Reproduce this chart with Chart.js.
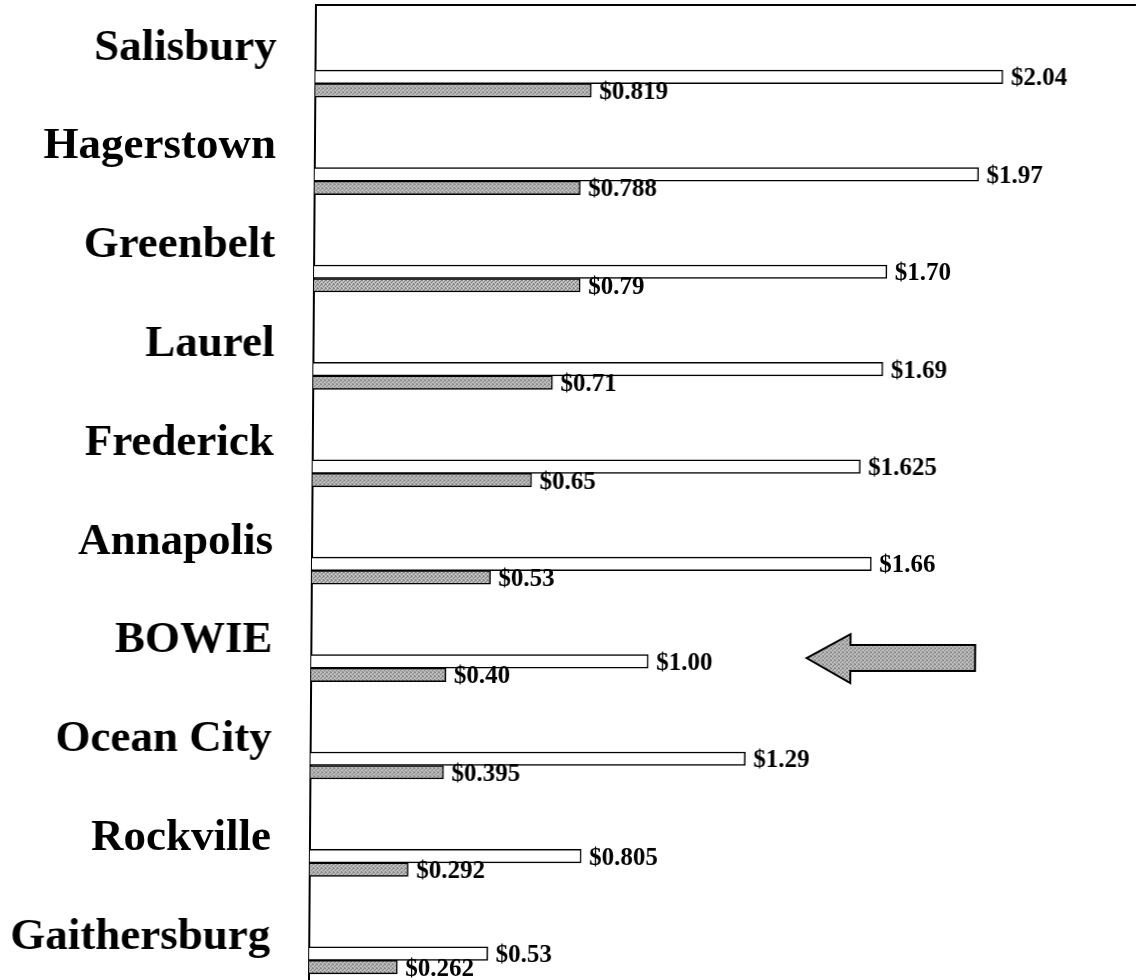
<!DOCTYPE html>
<html><head><meta charset="utf-8">
<script src="https://cdn.jsdelivr.net/npm/chart.js@4.4.0/dist/chart.umd.min.js"></script>
<style>
html,body{margin:0;padding:0;background:#fff;overflow:hidden;width:1136px;height:980px;}
#c{display:block;transform:skewX(-0.41deg);transform-origin:0 0;}
</style></head><body>
<canvas id="c" width="1136" height="1010"></canvas>
<script>
const cities = ['Salisbury','Hagerstown','Greenbelt','Laurel','Frederick','Annapolis','BOWIE','Ocean City','Rockville','Gaithersburg'];
const seriesA = [2.04, 1.97, 1.70, 1.69, 1.625, 1.66, 1.00, 1.29, 0.805, 0.53];
const seriesB = [0.819, 0.788, 0.79, 0.71, 0.65, 0.53, 0.40, 0.395, 0.292, 0.262];
const labelsA = ['$2.04','$1.97','$1.70','$1.69','$1.625','$1.66','$1.00','$1.29','$0.805','$0.53'];
const labelsB = ['$0.819','$0.788','$0.79','$0.71','$0.65','$0.53','$0.40','$0.395','$0.292','$0.262'];
const highlightCity = 'BOWIE';
const arrowTail = 1.97, arrowHeadBase = 1.60, arrowTip = 1.47;

const SERIF = '"Liberation Serif", "Times New Roman", serif';

// speckled gray fill, like the scanned halftone
function speckle() {
  const t = document.createElement('canvas');
  t.width = 4; t.height = 4;
  const c = t.getContext('2d');
  c.fillStyle = '#b4b4b4'; c.fillRect(0, 0, 4, 4);
  c.fillStyle = '#858585';
  [[0,0],[2,1],[1,2],[3,3],[3,0]].forEach(([x, y]) => c.fillRect(x, y, 1, 1));
  c.fillStyle = '#d0d0d0';
  [[1,0],[3,2]].forEach(([x, y]) => c.fillRect(x, y, 1, 1));
  return c.createPattern(t, 'repeat');
}
const grayFill = speckle();

const labelAxisShift = {
  id: 'labelAxisShift',
  afterLayout(chart) {
    const s = chart.scales.yl;
    s.top = -1.4; s.bottom = 986.4;
    s.configure();
    s._labelItems = null;
  }
};

const frame = {
  id: 'frame',
  beforeDatasetsDraw(chart) {
    const {ctx, chartArea} = chart;
    ctx.save();
    ctx.strokeStyle = '#000'; ctx.lineWidth = 2;
    ctx.beginPath();
    ctx.moveTo(chartArea.left, 5); ctx.lineTo(chartArea.left, chart.height);
    ctx.moveTo(chartArea.left - 1, 5); ctx.lineTo(chart.width, 5);
    ctx.stroke();
    ctx.restore();
  }
};

const valueLabels = {
  id: 'valueLabels',
  afterDatasetsDraw(chart) {
    const ctx = chart.ctx;
    ctx.save();
    ctx.font = 'bold 25px ' + SERIF;
    ctx.fillStyle = '#000';
    ctx.textAlign = 'left';
    ctx.textBaseline = 'middle';
    chart.data.datasets.forEach((ds, di) => {
      const meta = chart.getDatasetMeta(di);
      meta.data.forEach((el, i) => {
        ctx.fillText(ds.valueLabels[i], el.x + 8, el.y + 2);
      });
    });
    ctx.restore();
  }
};

const arrow = {
  id: 'arrow',
  afterDatasetsDraw(chart) {
    const {ctx, scales: {x, y}} = chart;
    const cy = y.getPixelForValue(cities.indexOf(highlightCity)) - 10;
    const xt = x.getPixelForValue(arrowTip), xb = x.getPixelForValue(arrowHeadBase), xe = x.getPixelForValue(arrowTail);
    ctx.save();
    ctx.beginPath();
    ctx.moveTo(xt, cy);
    ctx.lineTo(xb, cy - 24);
    ctx.lineTo(xb, cy - 13);
    ctx.lineTo(xe, cy - 13);
    ctx.lineTo(xe, cy + 13);
    ctx.lineTo(xb, cy + 13);
    ctx.lineTo(xb, cy + 25);
    ctx.closePath();
    ctx.fillStyle = grayFill;
    ctx.fill();
    ctx.lineWidth = 2; ctx.strokeStyle = '#000'; ctx.lineJoin = 'miter';
    ctx.stroke();
    ctx.restore();
  }
};

new Chart(document.getElementById('c'), {
  type: 'bar',
  data: {
    labels: cities,
    datasets: [
      { data: seriesA, valueLabels: labelsA, backgroundColor: '#ffffff', borderColor: '#000', borderWidth: 1.5, borderSkipped: 'start' },
      { data: seriesB, valueLabels: labelsB, backgroundColor: grayFill, borderColor: '#000', borderWidth: 1.5, borderSkipped: 'start' }
    ]
  },
  options: {
    indexAxis: 'y',
    responsive: false,
    animation: false,
    events: [],
    barThickness: 13.5,
    layout: { padding: { top: 35, bottom: 1, left: 0, right: 0 } },
    plugins: { legend: { display: false }, tooltip: { enabled: false } },
    scales: {
      x: { type: 'linear', display: false, min: 0, max: 2.4335 },
      y: { type: 'category', display: false, offset: true },
      yl: {
        type: 'category', axis: 'y', position: 'left', labels: cities, offset: true,
        grid: { display: false, drawTicks: false },
        border: { display: false },
        ticks: { padding: 39, color: '#000', font: { family: SERIF, size: 45, weight: 'bold' }, autoSkip: false },
        afterFit(s) { s.width = 316; s.paddingTop = 0; s.paddingBottom = 0; s.paddingLeft = 0; s.paddingRight = 0; }
      }
    }
  },
  plugins: [labelAxisShift, frame, valueLabels, arrow]
});
</script>
</body></html>
